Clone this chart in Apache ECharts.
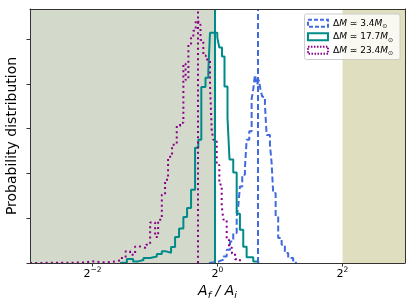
<!DOCTYPE html>
<html><head><meta charset="utf-8">
<script src="https://cdn.jsdelivr.net/npm/echarts@6/dist/echarts.min.js"></script>
<style>html,body{margin:0;padding:0;background:#fff}#c{width:415px;height:305px}</style>
</head><body><div id="c"></div>
<script>
// x values are log2(A_f / A_i); heights in arbitrary density units (one y tick = 1)
const seriesNames = ['ΔM ≃ 3.4M⊙', 'ΔM ≃ 17.7M⊙', 'ΔM ≃ 23.4M⊙'];
const legendLabels = ['{t|Δ}{i|M}{t| ≃ 3.4}{i|M}{s|⊙}', '{t|Δ}{i|M}{t| ≃ 17.7}{i|M}{s|⊙}', '{t|Δ}{i|M}{t| ≃ 23.4}{i|M}{s|⊙}'];
const colors = ['#4169e1', '#008b8b', '#8b008b'];

const blueEdges = [-0.136, 0.013, 0.093, 0.147, 0.200, 0.252, 0.307, 0.332, 0.359, 0.396, 0.439, 0.466, 0.508, 0.546, 0.572, 0.599, 0.631, 0.663, 0.687, 0.716, 0.759, 0.786, 0.839, 0.866, 0.891, 0.930, 0.971, 1.026, 1.078, 1.131, 1.211, 1.254];
const blueHeights = [0.03, 0.074, 0.147, 0.297, 0.482, 0.67, 1.04, 1.263, 1.71, 1.97, 2.12, 2.75, 2.94, 3.66, 3.88, 4.20, 3.98, 4.09, 3.87, 3.71, 3.53, 2.86, 2.64, 2.23, 1.56, 1.04, 0.558, 0.408, 0.223, 0.112, 0.03];

const tealEdges = [-1.558, -1.450, -1.350, -1.270, -1.185, -1.078, -0.971, -0.891, -0.823, -0.743, -0.679, -0.615, -0.546, -0.487, -0.423, -0.359, -0.307, -0.259, -0.192, -0.147, -0.120, -0.059, -0.035, -0.003, 0.029, 0.072, 0.112, 0.160, 0.192, 0.252, 0.307, 0.359, 0.412, 0.466, 0.572, 0.652];
const tealHeights = [0.013, 0.089, 0.036, 0.067, 0.112, 0.147, 0.20, 0.26, 0.23, 0.357, 0.58, 0.772, 1.027, 1.228, 1.636, 2.574, 2.752, 3.929, 4.136, 4.29, 5.14, 5.10, 5.14, 5.03, 4.81, 4.61, 3.94, 3.24, 2.31, 2.02, 1.10, 0.743, 0.364, 0.129, 0.036];

const purpleEdges = [-3.0, -2.117, -2.005, -1.797, -1.669, -1.550, -1.470, -1.398, -1.318, -1.238, -1.142, -1.078, -0.998, -0.950, -0.891, -0.839, -0.791, -0.727, -0.652, -0.599, -0.546, -0.511, -0.466, -0.423, -0.387, -0.348, -0.307, -0.272, -0.227, -0.188, -0.120, -0.093, -0.067, -0.013, 0.029, 0.067, 0.093, 0.147, 0.184, 0.232, 0.280, 0.359];
const purpleHeights = [0.01, 0.04, 0.01, 0.03, 0.058, 0.11, 0.26, 0.185, 0.37, 0.335, 0.41, 0.906, 0.58, 0.967, 1.525, 1.86, 2.37, 2.64, 3.06, 3.13, 4.45, 4.09, 4.875, 5.03, 5.185, 5.41, 5.32, 4.98, 4.63, 4.54, 3.98, 2.97, 2.75, 2.19, 1.75, 1.28, 0.97, 0.52, 0.34, 0.21, 0.085];

const markerValues = [0.647, -0.045, -0.316];
const leftBand = [-3, -0.045];
const rightBand = [2, 3];
const xTicks = [-2, 0, 2];
const xTickLabels = ['−2', '0', '2'];
const yTicks = [0, 1, 2, 3, 4, 5];
const lineTypes = [[6, 3], 'solid', [2, 3.2]];

function stepData(edges, h) {
  const d = [[edges[0], 0]];
  for (let i = 0; i < h.length; i++) d.push([edges[i], h[i]]);
  d.push([edges[edges.length - 1], 0]);
  return d;
}
const allEdges = [blueEdges, tealEdges, purpleEdges];
const allHeights = [blueHeights, tealHeights, purpleHeights];

const FONT = 'DejaVu Sans';
const chart = echarts.init(document.getElementById('c'), null, {renderer: 'canvas'});

const histSeries = seriesNames.map((n, k) => ({
  name: n, type: 'line', step: 'end', symbol: 'none', z: 3,
  data: stepData(allEdges[k], allHeights[k]),
  lineStyle: {color: colors[k], width: 2, type: lineTypes[k]},
  itemStyle: {color: colors[k]},
  markLine: {
    silent: true, symbol: ['none', 'none'], label: {show: false},
    lineStyle: {color: colors[k], width: 2, type: lineTypes[k]},
    data: [{xAxis: markerValues[k]}]
  }
}));

const axisCol = '#333';
chart.setOption({
  animation: false,
  grid: {left: 30, right: 10, top: 9, bottom: 42, containLabel: false, outerBoundsMode: 'none'},
  legend: {
    orient: 'vertical', right: 15, top: 14, selectedMode: false,
    backgroundColor: 'rgba(255,255,255,0.8)', borderColor: '#cccccc', borderWidth: 1, borderRadius: 2,
    padding: [3, 7, 3, 2.5], itemGap: 1, itemWidth: 20, itemHeight: 7,
    data: seriesNames.map((n, k) => ({
      name: n, icon: 'rect',
      itemStyle: {color: 'rgba(0,0,0,0)', borderColor: colors[k], borderWidth: 2, borderType: lineTypes[k] === 'solid' ? 'solid' : (k === 0 ? [4, 2] : [1.5, 1.5])}
    })),
    formatter: name => legendLabels[seriesNames.indexOf(name)],
    textStyle: {
      fontFamily: FONT, fontSize: 9, color: '#000', lineHeight: 12.5,
      rich: {
        t: {fontFamily: FONT, fontSize: 9, lineHeight: 12.5, color: '#000'},
        i: {fontFamily: FONT, fontSize: 9, fontStyle: 'italic', lineHeight: 12.5, color: '#000'},
        s: {fontFamily: FONT, fontSize: 6, lineHeight: 6, verticalAlign: 'bottom', color: '#000'}
      }
    }
  },
  xAxis: [{
    type: 'value', min: -3, max: 3, position: 'bottom', z: 10,
    axisLine: {show: true, onZero: false, lineStyle: {color: axisCol, width: 1}},
    axisTick: {show: true, customValues: xTicks, length: 3.5, lineStyle: {color: axisCol}},
    axisLabel: {
      customValues: xTicks, margin: 3,
      formatter: v => '{b|2}{p|' + xTickLabels[xTicks.indexOf(v)] + '}',
      rich: {
        b: {fontFamily: FONT, fontSize: 11, lineHeight: 16, color: '#000'},
        p: {fontFamily: FONT, fontSize: 7.5, lineHeight: 9, verticalAlign: 'top', color: '#000'}
      }
    },
    splitLine: {show: false},
    name: '{i|A}{s|f}{i| / A}{s|i}', nameLocation: 'middle', nameGap: 15,
    nameTextStyle: {
      rich: {
        i: {fontFamily: FONT, fontSize: 14, fontStyle: 'italic', lineHeight: 18, color: '#000'},
        s: {fontFamily: FONT, fontSize: 9.5, fontStyle: 'italic', lineHeight: 10, verticalAlign: 'bottom', color: '#000'}
      }
    }
  }, {
    type: 'value', min: -3, max: 3, position: 'top', z: 10,
    axisLine: {show: true, onZero: false, lineStyle: {color: axisCol, width: 1}},
    axisTick: {show: false}, axisLabel: {show: false}, splitLine: {show: false}
  }],
  yAxis: [{
    type: 'value', min: 0, max: 5.67, position: 'left', z: 10,
    axisLine: {show: true, onZero: false, lineStyle: {color: axisCol, width: 1}},
    axisTick: {show: true, customValues: yTicks, length: 3.5, lineStyle: {color: axisCol}},
    axisLabel: {show: false}, splitLine: {show: false},
    name: 'Probability distribution', nameLocation: 'middle', nameGap: 11,
    nameTextStyle: {fontFamily: FONT, fontSize: 14, color: '#000'}
  }, {
    type: 'value', min: 0, max: 5.67, position: 'right', z: 10,
    axisLine: {show: true, onZero: false, lineStyle: {color: axisCol, width: 1}},
    axisTick: {show: false}, axisLabel: {show: false}, splitLine: {show: false}
  }],
  series: [{
    type: 'line', data: [], z: 1, silent: true,
    markArea: {
      silent: true,
      data: [
        [{xAxis: leftBand[0], itemStyle: {color: 'rgb(212,218,203)'}}, {xAxis: leftBand[1]}],
        [{xAxis: rightBand[0], itemStyle: {color: 'rgb(223,223,191)'}}, {xAxis: rightBand[1]}]
      ]
    }
  }].concat(histSeries)
});
</script></body></html>
